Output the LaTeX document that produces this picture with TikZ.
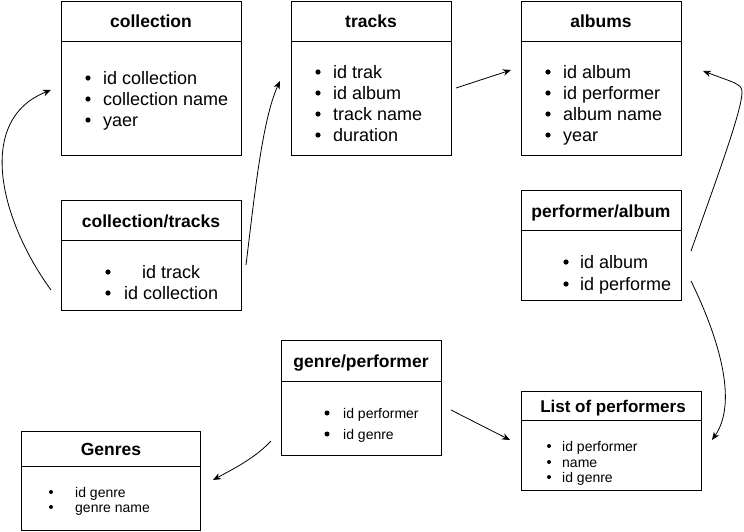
\documentclass[tikz,border=0pt]{standalone}
\usepackage{fontspec}
\setmainfont{Liberation Sans}
\usetikzlibrary{arrows.meta}
\begin{document}
\begin{tikzpicture}[x=1pt,y=-1pt,
  tbox/.style={draw,line width=1pt,anchor=north west,inner sep=0pt,minimum width=#1},
  hline/.style={line width=1pt},
  ttl/.style={font=\bfseries\fontsize{17.5}{20}\selectfont,inner sep=0pt,anchor=base},
  itm/.style={font=\fontsize{18}{21}\selectfont,anchor=base west,inner sep=0pt},
  sitm/.style={font=\fontsize{14}{16}\selectfont,anchor=base west,inner sep=0pt},
  conn/.style={line width=0.8pt,-{Stealth[length=8pt,width=6.5pt,inset=2.5pt]}}]
\useasboundingbox (0,0) rectangle (744,531);

% ---------- collection ----------
\node[tbox=180pt,minimum height=154pt] (coll) at (61,1) {};
\draw[hline] (61,41) -- (241,41);
\node[ttl] (collT) at (151,27) {collection};
\foreach \y/\t [count=\i] in {78/id collection,99/collection name,120/yaer}{
  \fill (88,\y) circle (2.6pt);
  \node[itm] (collI\i) at (103,\y+6.5) {\t};
}

% ---------- tracks ----------
\node[tbox=160pt,minimum height=154pt] (trk) at (291,1) {};
\draw[hline] (291,41) -- (451,41);
\node[ttl] (trkT) at (371,27) {tracks};
\foreach \y/\t [count=\i] in {72/id trak,93/id album,114/track name,135/duration}{
  \fill (318,\y) circle (2.6pt);
  \node[itm] (trkI\i) at (333,\y+6.5) {\t};
}

% ---------- albums ----------
\node[tbox=160pt,minimum height=154pt] (alb) at (521,1) {};
\draw[hline] (521,41) -- (681,41);
\node[ttl] (albT) at (601,27) {albums};
\foreach \y/\t [count=\i] in {72/id album,93/id performer,114/album name,135/year}{
  \fill (548,\y) circle (2.6pt);
  \node[itm] (albI\i) at (563,\y+6.5) {\t};
}

% ---------- collection/tracks ----------
\node[tbox=180pt,minimum height=110pt] (ct) at (61,200) {};
\draw[hline] (61,240) -- (241,240);
\node[ttl] (ctT) at (151,227) {collection/tracks};
\fill (108,272) circle (2.6pt);
\node[itm] (ctI1) at (142,278.5) {id track};
\fill (108,293) circle (2.6pt);
\node[itm] (ctI2) at (124,299.5) {id collection};

% ---------- performer/album ----------
\node[tbox=160pt,minimum height=110pt] (pa) at (521,190) {};
\draw[hline] (521,230) -- (681,230);
\node[ttl] (paT) at (601,217) {performer/album};
\foreach \y/\t [count=\i] in {262/id album,284/id performe}{
  \fill (566,\y) circle (2.6pt);
  \node[itm] (paI\i) at (580,\y+6.5) {\t};
}

% ---------- genre/performer ----------
\node[tbox=160pt,minimum height=115pt] (gp) at (281,340) {};
\draw[hline] (281,381) -- (441,381);
\node[ttl] (gpT) at (361,367) {genre/performer};
\foreach \y/\t [count=\i] in {413/id performer,434/id genre}{
  \fill (327,\y) circle (2.5pt);
  \node[sitm] (gpI\i) at (343,\y+5) {\t};
}

% ---------- List of performers ----------
\node[tbox=180pt,minimum height=99pt] (lp) at (521,391) {};
\draw[hline] (521,420) -- (701,420);
\node[ttl,font=\bfseries\fontsize{17}{20}\selectfont] (lpT) at (613,412) {List of performers};
\foreach \y/\t [count=\i] in {446/id performer,462/name,477/id genre}{
  \fill (549,\y) circle (2pt);
  \node[sitm] (lpI\i) at (562,\y+5) {\t};
}

% ---------- Genres ----------
\node[tbox=179pt,minimum height=99pt] (gen) at (21,431) {};
\draw[hline] (21,466) -- (200,466);
\node[ttl] (genT) at (111,455) {Genres};
\foreach \y/\t [count=\i] in {492/id genre,507/genre name}{
  \fill (51,\y) circle (2pt);
  \node[sitm] (genI\i) at (75,\y+5) {\t};
}

% ---------- connector ends ----------
\coordinate (c1s) at (51,290);  \coordinate (c1e) at (51,90);
\coordinate (c2s) at (246,265); \coordinate (c2e) at (280,81);
\coordinate (c3s) at (456,88);  \coordinate (c3e) at (511,70);
\coordinate (c4s) at (691,251); \coordinate (c4e) at (703,71);
\coordinate (c5s) at (691,281); \coordinate (c5e) at (712,440);
\coordinate (c6s) at (451,410); \coordinate (c6e) at (510,440);
\coordinate (c7s) at (271,441); \coordinate (c7e) at (213,480);

\draw[conn] (c1s) .. controls (0,220) and (-25,120) .. (c1e);
\draw[conn] (c2s) .. controls (254,200) and (262,120) .. (c2e);
\draw[conn] (c3s) -- (c3e);
\draw[conn] (c4s) .. controls (718,175) and (742,110) .. (742,92) .. controls (742,84) and (735,83) .. (c4e);
\draw[conn] (c5s) .. controls (715,330) and (740,400) .. (c5e);
\draw[conn] (c6s) -- (c6e);
\draw[conn] (c7s) .. controls (255,458) and (235,468) .. (c7e);
\end{tikzpicture}
\end{document}
